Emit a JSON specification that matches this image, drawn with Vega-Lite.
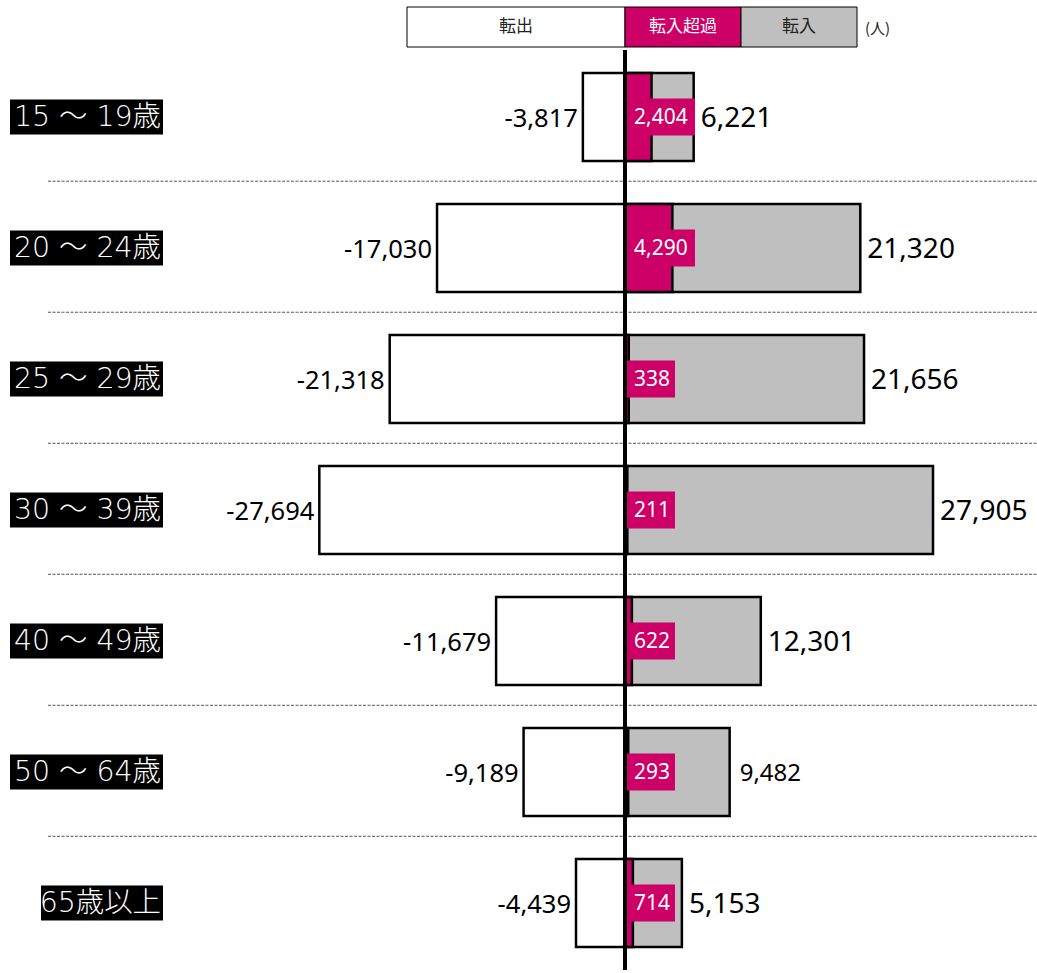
{
  "$schema": "https://vega.github.io/schema/vega-lite/v6.json",
  "padding": {"left": 0, "top": 6, "right": 0, "bottom": 0},
  "autosize": {"type": "pad"},
  "spacing": 0,
  "background": "white",
  "config": {"view": {"stroke": null}},
  "vconcat": [
    {
      "width": 1037,
      "height": 40,
      "data": {"values": [{"row": "legend"}]},
      "encoding": {
        "y": {"field": "row", "type": "nominal", "axis": null, "scale": {"paddingInner": 0, "paddingOuter": 0}}
      },
      "layer": [
        {
          "mark": {"type": "rect", "fill": "white", "stroke": "black", "strokeWidth": 1},
          "encoding": {
            "x": {"datum": -19750, "type": "quantitative", "scale": {"domain": [-56625, 37327], "nice": false, "zero": false}, "axis": null},
            "x2": {"datum": 0}
          }
        },
        {
          "mark": {"type": "rect", "fill": "#CC0066", "stroke": "black", "strokeWidth": 1},
          "encoding": {"x": {"datum": 0, "type": "quantitative"}, "x2": {"datum": 10510}}
        },
        {
          "mark": {"type": "rect", "fill": "#BFBFBF", "stroke": "black", "strokeWidth": 1},
          "encoding": {"x": {"datum": 10510, "type": "quantitative"}, "x2": {"datum": 21020}}
        },
        {
          "mark": {"type": "text", "text": "転出", "font": "Noto Sans CJK JP", "fontSize": 17, "fill": "#222222", "align": "center", "baseline": "middle"},
          "encoding": {"x": {"datum": -9875, "type": "quantitative"}}
        },
        {
          "mark": {"type": "text", "text": "転入超過", "font": "Noto Sans CJK JP", "fontSize": 17, "fill": "white", "align": "center", "baseline": "middle"},
          "encoding": {"x": {"datum": 5255, "type": "quantitative"}}
        },
        {
          "mark": {"type": "text", "text": "転入", "font": "Noto Sans CJK JP", "fontSize": 17, "fill": "#222222", "align": "center", "baseline": "middle"},
          "encoding": {"x": {"datum": 15765, "type": "quantitative"}}
        },
        {
          "mark": {"type": "text", "text": "(人)", "font": "Noto Sans CJK JP", "fontSize": 15, "fill": "#222222", "align": "left", "baseline": "middle", "dy": 2},
          "encoding": {"x": {"datum": 21745, "type": "quantitative"}}
        }
      ]
    },
    {
      "width": 1037,
      "height": 920,
      "data": {
        "values": [
          {"age": "15 ～ 19歳", "outflow": -3817, "inflow": 6221, "net": 2404},
          {"age": "20 ～ 24歳", "outflow": -17030, "inflow": 21320, "net": 4290},
          {"age": "25 ～ 29歳", "outflow": -21318, "inflow": 21656, "net": 338},
          {"age": "30 ～ 39歳", "outflow": -27694, "inflow": 27905, "net": 211},
          {"age": "40 ～ 49歳", "outflow": -11679, "inflow": 12301, "net": 622},
          {"age": "50 ～ 64歳", "outflow": -9189, "inflow": 9482, "net": 293},
          {"age": "65歳以上", "outflow": -4439, "inflow": 5153, "net": 714}
        ]
      },
      "transform": [
        {"calculate": "'-' + format(-datum.outflow, ',')", "as": "outLabel"},
        {"calculate": "format(datum.inflow, ',')", "as": "inLabel"},
        {"calculate": "format(datum.net, ',')", "as": "netLabel"},
        {"calculate": "(20 + 10 * length(datum.netLabel)) * 90.6", "as": "netBoxEnd"},
        {"calculate": "indexof(datum.age, '～') >= 0 ? -55719 : -52910", "as": "ageBoxStart"}
      ],
      "layer": [
        {
          "transform": [{"filter": "datum.age !== '65歳以上'"}],
          "mark": {"type": "rule", "stroke": "#555555", "strokeWidth": 1, "strokeDash": [3, 1.5]},
          "encoding": {
            "y": {"field": "age", "type": "nominal", "sort": null, "axis": null, "bandPosition": 1.23, "scale": {"paddingInner": 0.328, "paddingOuter": 0.175}},
            "x": {"datum": -52276, "type": "quantitative", "scale": {"domain": [-56625, 37327], "nice": false, "zero": false}, "axis": null},
            "x2": {"datum": 37327}
          }
        },
        {
          "mark": {"type": "bar", "fill": "white", "stroke": "black", "strokeWidth": 2.5},
          "encoding": {
            "y": {"field": "age", "type": "nominal", "sort": null},
            "x": {"field": "outflow", "type": "quantitative"},
            "x2": {"datum": 0}
          }
        },
        {
          "mark": {"type": "bar", "fill": "#BFBFBF", "stroke": "black", "strokeWidth": 2.5},
          "encoding": {
            "y": {"field": "age", "type": "nominal", "sort": null},
            "x": {"field": "inflow", "type": "quantitative"},
            "x2": {"datum": 0}
          }
        },
        {
          "mark": {"type": "bar", "fill": "#CC0066", "stroke": "black", "strokeWidth": 2.5},
          "encoding": {
            "y": {"field": "age", "type": "nominal", "sort": null},
            "x": {"field": "net", "type": "quantitative"},
            "x2": {"datum": 0}
          }
        },
        {
          "mark": {"type": "bar", "fill": "#CC0066", "height": 37},
          "encoding": {
            "y": {"field": "age", "type": "nominal", "sort": null},
            "x": {"field": "netBoxEnd", "type": "quantitative"},
            "x2": {"datum": 181}
          }
        },
        {
          "mark": {"type": "text", "font": "Noto Sans", "fontSize": 21, "fill": "white", "align": "left", "baseline": "middle", "dy": 1},
          "encoding": {
            "y": {"field": "age", "type": "nominal", "sort": null},
            "x": {"datum": 815, "type": "quantitative"},
            "text": {"field": "netLabel"}
          }
        },
        {
          "data": {"values": [{}]},
          "mark": {"type": "rule", "stroke": "black", "strokeWidth": 4},
          "encoding": {"x": {"datum": 0, "type": "quantitative"}}
        },
        {
          "mark": {"type": "text", "font": "Noto Sans", "fontSize": 25.5, "fill": "black", "align": "right", "baseline": "middle", "dx": -5, "dy": 2},
          "encoding": {
            "y": {"field": "age", "type": "nominal", "sort": null},
            "x": {"field": "outflow", "type": "quantitative"},
            "text": {"field": "outLabel"}
          }
        },
        {
          "transform": [{"filter": "datum.age !== '50 ～ 64歳'"}],
          "mark": {"type": "text", "font": "Noto Sans", "fontSize": 28, "fill": "black", "align": "left", "baseline": "middle", "dx": 7, "dy": 2},
          "encoding": {
            "y": {"field": "age", "type": "nominal", "sort": null},
            "x": {"field": "inflow", "type": "quantitative"},
            "text": {"field": "inLabel"}
          }
        },
        {
          "transform": [{"filter": "datum.age === '50 ～ 64歳'"}],
          "mark": {"type": "text", "font": "Noto Sans", "fontSize": 24, "fill": "black", "align": "left", "baseline": "middle", "dx": 10, "dy": 2},
          "encoding": {
            "y": {"field": "age", "type": "nominal", "sort": null},
            "x": {"field": "inflow", "type": "quantitative"},
            "text": {"field": "inLabel"}
          }
        },
        {
          "mark": {"type": "bar", "fill": "black", "height": 35},
          "encoding": {
            "y": {"field": "age", "type": "nominal", "sort": null},
            "x": {"field": "ageBoxStart", "type": "quantitative"},
            "x2": {"datum": -41857}
          }
        },
        {
          "mark": {"type": "text", "font": "'DejaVu Sans', 'Noto Sans CJK JP'", "fontWeight": 300, "fontSize": 28.4, "fill": "white", "align": "right", "baseline": "middle"},
          "encoding": {
            "y": {"field": "age", "type": "nominal", "sort": null},
            "x": {"datum": -42038, "type": "quantitative"},
            "text": {"field": "age"}
          }
        }
      ]
    }
  ]
}
